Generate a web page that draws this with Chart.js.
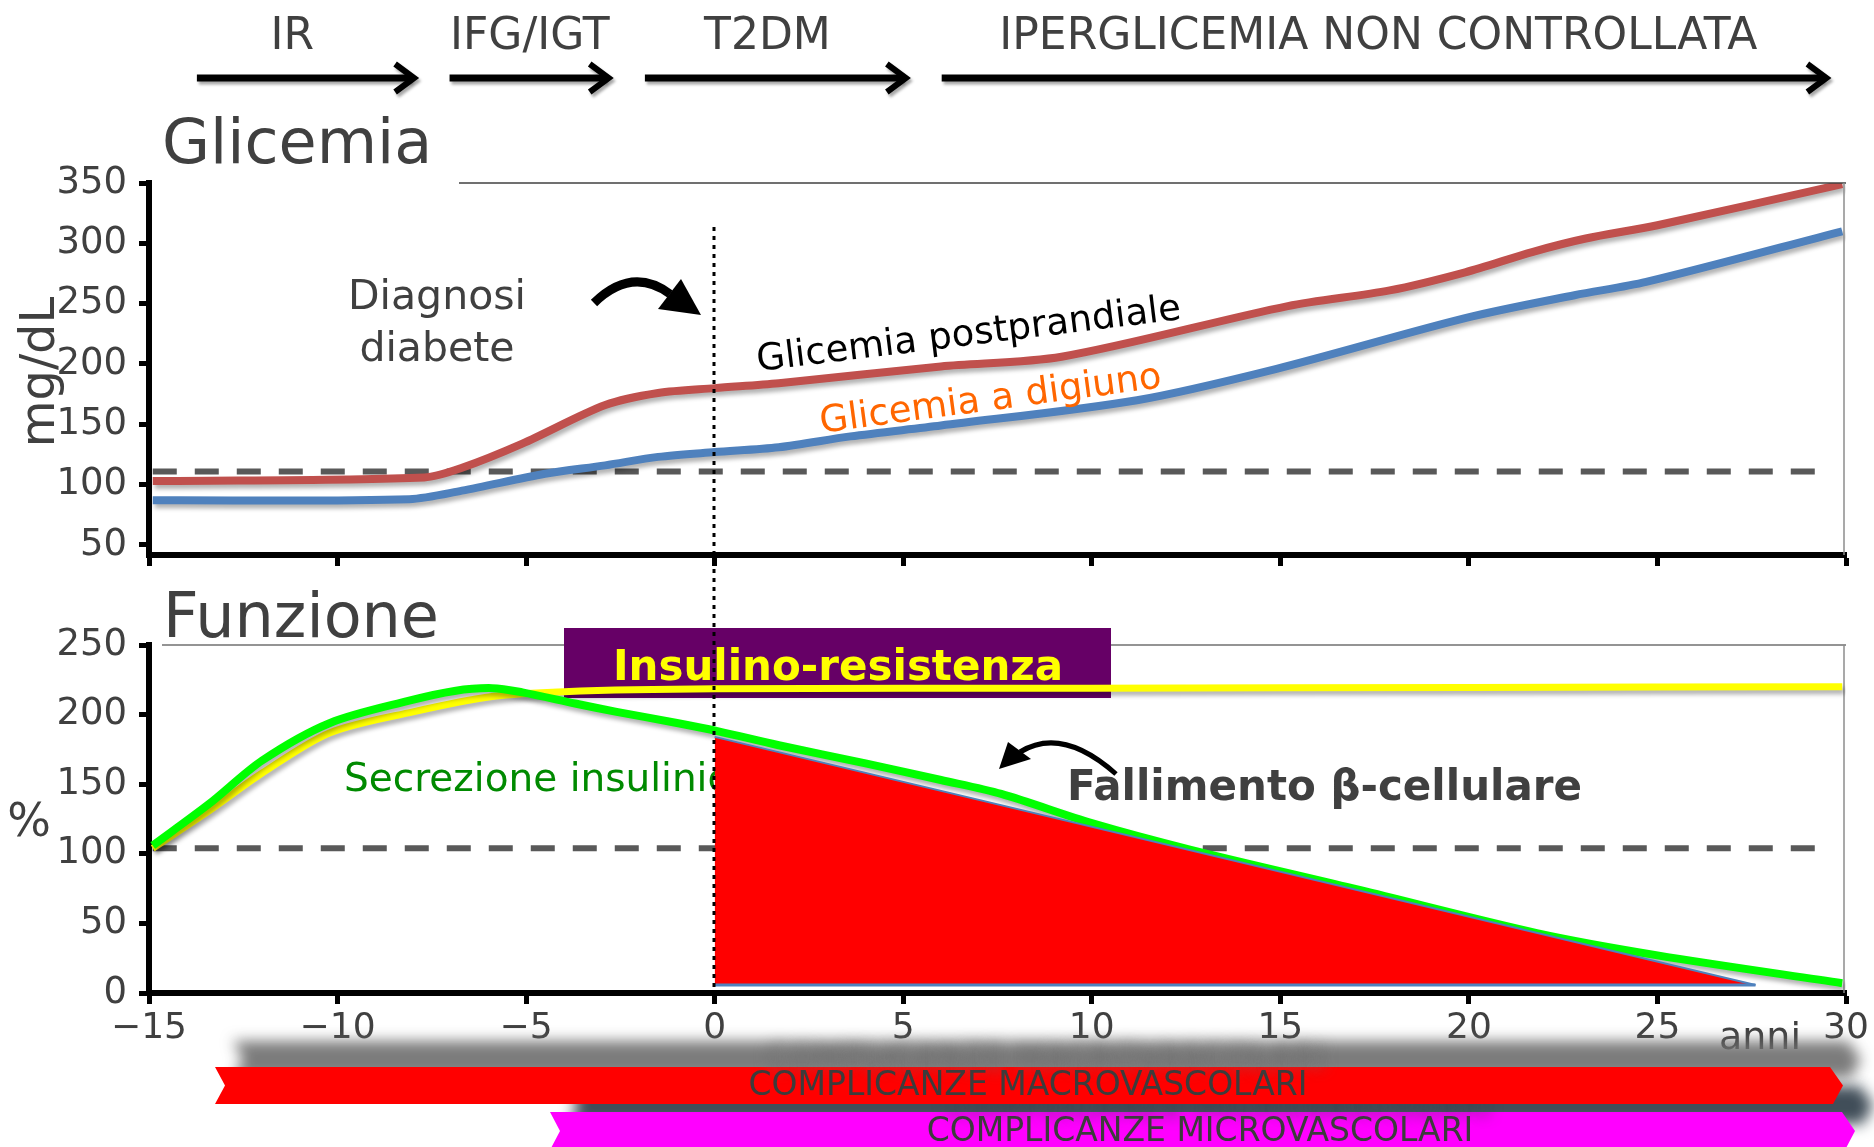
<!DOCTYPE html>
<html lang="it">
<head>
  <meta charset="UTF-8">
  <title>Glicemia e funzione beta-cellulare</title>
  <script src="https://cdn.jsdelivr.net/npm/chart.js@4.4.1/dist/chart.umd.min.js"></script>
  <style>
    html, body { margin: 0; padding: 0; background: #ffffff; }
    #wrap { position: relative; width: 1874px; height: 1147px; overflow: hidden; }
    #wrap canvas { position: absolute; left: 0; top: 0; }
  </style>
</head>
<body>
  <div id="wrap">
    <canvas id="glyChart" width="1874" height="1147"></canvas>
    <canvas id="funcChart" width="1874" height="1147"></canvas>
  </div>

  <script>
    // ---- values ----
    const yearTicks = [-15, -10, -5, 0, 5, 10, 15, 20, 25, 30];
    const glyTicks = [50, 100, 150, 200, 250, 300, 350];
    const funcTicks = [0, 50, 100, 150, 200, 250];
    const phases = ['IR', 'IFG/IGT', 'T2DM', 'IPERGLICEMIA NON CONTROLLATA'];

    // Glicemia postprandiale (mg/dL)
    const postX = [-14.9, -7.7, -6.7, -5.1, -2.9, -1.5, 0, 1.7, 6, 9.2, 15.2, 17.9, 19.9, 21.7, 23.1, 25, 29.9];
    const postY = [103, 106, 114, 134, 166, 176, 180, 184, 198, 206, 248, 261, 276, 293, 304, 315, 349];
    // Glicemia a digiuno (mg/dL)
    const fastX = [-14.9, -8.1, -6.7, -4.5, -2.9, -1.5, 0, 1.7, 3.6, 6, 11.2, 14.9, 19.9, 22.8, 24.7, 29.9];
    const fastY = [87, 88, 95, 109, 116, 123, 127, 131, 140, 149, 170, 196, 238, 257, 268, 310];
    const glyThreshold = 111;

    // Secrezione insulinica (%)
    const secrX = [-14.9, -13.4, -12, -10.2, -8.1, -6.9, -5.9, -5.1, -3.7, -2.6, -1, 0.1, 1.7, 4, 6, 7.6, 10, 12.6, 17.1, 21.8, 25, 29.9];
    const secrY = [106, 136, 167, 194, 210, 217, 219, 216, 208, 202, 194, 188, 178, 165, 153, 143, 122, 103, 74, 43, 27, 7];
    // Insulino-resistenza (%)
    const resX = [-14.9, -13.4, -12, -10.2, -8, -5.9, -4, 0, 10, 20, 29.9];
    const resY = [104, 131, 158, 187, 202, 213, 216.5, 218.5, 219, 219.5, 220];
    // Fallimento beta-cellulare (area)
    const failX = [0, 27.6];
    const failY = [184, 5.7];
    const failBase = 5.7;
    const funcThreshold = 104;
    const thresholdX = [-14.9, 29.5];

    const pts = (xs, ys) => xs.map((x, i) => ({ x: x, y: ys[i] }));
    const flat = (xs, v) => xs.map(x => ({ x: x, y: v }));

    Chart.defaults.font.family = '"DejaVu Sans", Verdana, sans-serif';
    const GREY = '#404040';

    // ---- helpers ----
    function label(ctx, str, x, y, font, color, align, rot) {
      ctx.save();
      ctx.font = font;
      ctx.fillStyle = color;
      ctx.textAlign = align || 'left';
      ctx.textBaseline = 'alphabetic';
      ctx.translate(x, y);
      if (rot) ctx.rotate(rot * Math.PI / 180);
      ctx.fillText(str, 0, 0);
      ctx.restore();
    }

    function headerArrow(ctx, x1, x2, y) {
      ctx.save();
      ctx.shadowColor = 'rgba(0,0,0,0.35)';
      ctx.shadowOffsetX = 2;
      ctx.shadowOffsetY = 3;
      ctx.shadowBlur = 3;
      ctx.strokeStyle = '#000';
      ctx.lineWidth = 7;
      ctx.beginPath();
      ctx.moveTo(x1, y);
      ctx.lineTo(x2 - 3, y);
      ctx.stroke();
      ctx.lineWidth = 6;
      ctx.beginPath();
      ctx.moveTo(x2 - 19, y - 14);
      ctx.lineTo(x2, y);
      ctx.lineTo(x2 - 19, y + 14);
      ctx.stroke();
      ctx.restore();
    }

    function band(ctx, x1, x2, y1, y2, fill, shadow, text, cx) {
      const ym = (y1 + y2) / 2;
      ctx.save();
      ctx.shadowColor = shadow;
      ctx.shadowBlur = 14;
      ctx.shadowOffsetX = 18;
      ctx.shadowOffsetY = -26;
      ctx.fillStyle = fill;
      ctx.beginPath();
      ctx.moveTo(x1, y1);
      ctx.lineTo(x2 - 13, y1);
      ctx.lineTo(x2, ym);
      ctx.lineTo(x2 - 10, y2);
      ctx.lineTo(x1, y2);
      ctx.lineTo(x1 + 10, ym);
      ctx.closePath();
      ctx.fill();
      ctx.font = '33px "DejaVu Sans"';
      ctx.fillStyle = '#3c3c3c';
      ctx.textAlign = 'center';
      ctx.textBaseline = 'middle';
      ctx.fillText(text, cx, ym + 1);
      ctx.restore();
    }

    function xAxis(showLabels, height) {
      return {
        type: 'linear',
        min: -15,
        max: 30,
        afterBuildTicks: s => { s.ticks = yearTicks.map(v => ({ value: v })); },
        afterFit: s => { s.height = height; },
        grid: { drawOnChartArea: false, drawTicks: true, tickLength: 11, tickWidth: 5, tickColor: '#000' },
        border: { display: true, color: '#000', width: 6 },
        ticks: {
          display: showLabels,
          color: GREY,
          font: { size: 36 },
          padding: 3,
          maxRotation: 0,
          autoSkip: false,
          callback: v => String(v).replace('-', '\u2212')
        }
      };
    }

    function yAxis(min, max, tickList) {
      return {
        type: 'linear',
        min: min,
        max: max,
        afterBuildTicks: s => { s.ticks = tickList.map(v => ({ value: v })); },
        afterFit: s => { s.width = 149; },
        grid: { drawOnChartArea: false, drawTicks: true, tickLength: 10, tickWidth: 5, tickColor: '#000' },
        border: { display: true, color: '#000', width: 6 },
        ticks: { color: GREY, font: { size: 37 }, padding: 12, autoSkip: false }
      };
    }

    // soft drop shadow under the thick curves
    const lineShadow = {
      id: 'lineShadow',
      beforeDatasetDraw(chart, args) {
        if (!args.meta._dataset.shadow) return;
        const ctx = chart.ctx;
        ctx.save();
        ctx.shadowColor = 'rgba(0,0,0,0.3)';
        ctx.shadowOffsetX = 2;
        ctx.shadowOffsetY = 4;
        ctx.shadowBlur = 4;
      },
      afterDatasetDraw(chart, args) {
        if (!args.meta._dataset.shadow) return;
        chart.ctx.restore();
      }
    };

    // ---- top panel: Glicemia ----
    const glyDecor = {
      id: 'glyDecor',
      afterDraw(chart) {
        const ctx = chart.ctx;
        const xs = chart.scales.x;
        const a = chart.chartArea;

        // phase arrows + labels
        const spans = [[-13.73, -7.97], [-7.03, -2.81], [-1.85, 5.07], [6.02, 29.48]];
        const centers = [-11.2, -4.9, 1.4, 17.6];
        spans.forEach((s, i) => {
          headerArrow(ctx, xs.getPixelForValue(s[0]), xs.getPixelForValue(s[1]), 78);
          label(ctx, phases[i], xs.getPixelForValue(centers[i]), 49, '44px "DejaVu Sans"', GREY, 'center');
        });

        // frame (top + right)
        ctx.save();
        ctx.strokeStyle = '#404040';
        ctx.lineWidth = 1.5;
        ctx.beginPath();
        ctx.moveTo(459, a.top);
        ctx.lineTo(a.right, a.top);
        ctx.stroke();
        ctx.strokeStyle = '#8c8c8c';
        ctx.beginPath();
        ctx.moveTo(a.right - 2, a.top);
        ctx.lineTo(a.right - 2, a.bottom);
        ctx.stroke();
        ctx.restore();

        label(ctx, 'Glicemia', 162, 163, '62px "DejaVu Sans"', GREY);
        label(ctx, 'mg/dL', 54, 372, '48px "DejaVu Sans"', GREY, 'center', -90);

        label(ctx, 'Diagnosi', 437, 309, '41px "DejaVu Sans"', GREY, 'center');
        label(ctx, 'diabete', 437, 361, '41px "DejaVu Sans"', GREY, 'center');

        // curved arrow towards the diagnosis line
        ctx.save();
        ctx.strokeStyle = '#000';
        ctx.fillStyle = '#000';
        ctx.lineWidth = 9;
        ctx.beginPath();
        ctx.moveTo(594, 303);
        ctx.quadraticCurveTo(632, 266, 670, 294);
        ctx.stroke();
        ctx.beginPath();
        ctx.moveTo(701, 315);
        ctx.lineTo(658, 309);
        ctx.lineTo(681, 279);
        ctx.closePath();
        ctx.fill();
        ctx.restore();

        label(ctx, 'Glicemia postprandiale', 970, 345, '37px "DejaVu Sans"', '#000', 'center', -7);
        label(ctx, 'Glicemia a digiuno', 992, 410, '37px "DejaVu Sans"', '#ff6600', 'center', -7.6);
      }
    };

    new Chart(document.getElementById('glyChart'), {
      type: 'line',
      data: {
        datasets: [
          { label: 'Glicemia postprandiale', data: pts(postX, postY), borderColor: '#c0504d', borderWidth: 8, tension: 0.3, pointRadius: 0, shadow: true },
          { label: 'Glicemia a digiuno', data: pts(fastX, fastY), borderColor: '#4f81bd', borderWidth: 8, tension: 0.3, pointRadius: 0, shadow: true },
          { label: 'Soglia', data: flat(thresholdX, glyThreshold), borderColor: '#595959', borderWidth: 6, borderDash: [24, 18], pointRadius: 0 }
        ]
      },
      options: {
        responsive: false,
        animation: false,
        layout: { autoPadding: false, padding: { top: 183, right: 28, left: 0, bottom: 0 } },
        plugins: { legend: { display: false }, tooltip: { enabled: false } },
        scales: {
          x: xAxis(false, 1147 - 555),
          y: yAxis(41.7, 350, glyTicks)
        }
      },
      plugins: [lineShadow, glyDecor]
    });

    // ---- bottom panel: Funzione ----
    const funcDecor = {
      id: 'funcDecor',
      beforeDatasetsDraw(chart) {
        const ctx = chart.ctx;
        const a = chart.chartArea;
        ctx.save();
        ctx.strokeStyle = '#707070';
        ctx.lineWidth = 1.5;
        ctx.beginPath();
        ctx.moveTo(162, a.top);
        ctx.lineTo(a.right, a.top);
        ctx.stroke();
        ctx.strokeStyle = '#8c8c8c';
        ctx.beginPath();
        ctx.moveTo(a.right - 2, a.top);
        ctx.lineTo(a.right - 2, a.bottom);
        ctx.stroke();
        ctx.fillStyle = '#660066';
        ctx.fillRect(564, 628, 547, 70);
        ctx.restore();
        label(ctx, 'Secrezione insulinica', 344, 791, '39px "DejaVu Sans"', '#008a00');
      },
      afterDraw(chart) {
        const ctx = chart.ctx;
        const xs = chart.scales.x;
        const ys = chart.scales.y;

        label(ctx, 'Insulino-resistenza', 838, 680, 'bold 42px "DejaVu Sans"', '#ffff00', 'center');
        label(ctx, 'Fallimento \u03b2-cellulare', 1067, 800, 'bold 42px "DejaVu Sans"', GREY);
        label(ctx, 'Funzione', 163, 637, '62px "DejaVu Sans"', GREY);
        label(ctx, '%', 29, 836, '46px "DejaVu Sans"', GREY, 'center');
        label(ctx, 'anni', 1760, 1049, '38px "DejaVu Sans"', GREY, 'center');

        // curved arrow near "Fallimento"
        ctx.save();
        ctx.strokeStyle = '#000';
        ctx.fillStyle = '#000';
        ctx.lineWidth = 5;
        ctx.beginPath();
        ctx.moveTo(1116, 774);
        ctx.quadraticCurveTo(1062, 726, 1020, 752);
        ctx.stroke();
        ctx.beginPath();
        ctx.moveTo(999, 769);
        ctx.lineTo(1008, 742);
        ctx.lineTo(1031, 759);
        ctx.closePath();
        ctx.fill();
        ctx.restore();

        // diagnosis line at year 0 across both panels
        const x0 = Math.round(xs.getPixelForValue(0)) - 1;
        ctx.save();
        ctx.strokeStyle = '#000';
        ctx.lineWidth = 3;
        ctx.setLineDash([4, 5]);
        ctx.beginPath();
        ctx.moveTo(x0, 227);
        ctx.lineTo(x0, ys.getPixelForValue(0));
        ctx.stroke();
        ctx.restore();

        // complication bands
        band(ctx, 550, 1855, 1112, 1150, '#ff00ff', 'rgba(55,68,80,0.95)', 'COMPLICANZE MICROVASCOLARI', 1200);
        band(ctx, 215, 1843, 1067, 1104, '#ff0000', 'rgba(110,110,110,0.9)', 'COMPLICANZE MACROVASCOLARI', 1028);
      }
    };

    new Chart(document.getElementById('funcChart'), {
      type: 'line',
      data: {
        datasets: [
          { label: 'Base', data: flat(failX, failBase), borderColor: '#4f81bd', borderWidth: 3, pointRadius: 0 },
          { label: 'Fallimento beta-cellulare', data: pts(failX, failY), borderColor: '#4f81bd', borderWidth: 2, backgroundColor: '#ff0000', fill: { value: failBase }, pointRadius: 0 },
          { label: 'Secrezione insulinica', data: pts(secrX, secrY), borderColor: '#00ff00', borderWidth: 8, tension: 0.3, pointRadius: 0, shadow: true },
          { label: 'Insulino-resistenza', data: pts(resX, resY), borderColor: '#ffff00', borderWidth: 7, tension: 0.3, pointRadius: 0, shadow: true },
          { label: 'Soglia', data: flat(thresholdX, funcThreshold), borderColor: '#595959', borderWidth: 6, borderDash: [24, 18], pointRadius: 0 }
        ]
      },
      options: {
        responsive: false,
        animation: false,
        layout: { autoPadding: false, padding: { top: 645, right: 28, left: 0, bottom: 0 } },
        plugins: { legend: { display: false }, tooltip: { enabled: false } },
        scales: {
          x: xAxis(true, 1147 - 993),
          y: yAxis(0, 250, funcTicks)
        }
      },
      plugins: [lineShadow, funcDecor]
    });
  </script>
</body>
</html>
